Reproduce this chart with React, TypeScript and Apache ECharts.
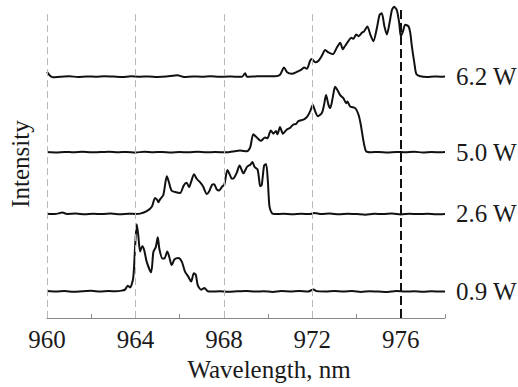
import React, { useEffect, useRef } from "react";
import * as echarts from "echarts";

// Wavelength axis (nm)
const xMin = 960;
const xMax = 978;
const majorTicks = [960, 964, 968, 972, 976];
const minorTicks = [962, 966, 970, 974, 978];
const guideLines = [960, 964, 968, 972];
const markedWavelength = 976;

// Pump powers and vertical stacking offsets (a.u.)
const powers = ["0.9 W", "2.6 W", "5.0 W", "6.2 W"];
const offsets = [27, 106, 169, 246];
const yMax = 314;

// Spectra: [wavelength nm, intensity a.u.]
const spec09: [number, number][] = [
  [960, 0.5], [960.4, 0], [960.8, 0.6], [961.2, -0.2], [961.6, 0.4], [962, 0.8], [962.4, 0.1], [962.8, 0.5],
  [963.1, 0.3], [963.38, 1], [963.53, 2], [963.65, 6], [963.76, 4.3], [963.9, 14], [963.98, 44], [964.06, 68.7],
  [964.13, 57], [964.21, 41], [964.31, 46.3], [964.4, 42], [964.51, 30.3], [964.71, 19.7], [964.81, 40.3],
  [964.92, 45.3], [965.01, 55.3], [965.08, 43.7], [965.22, 33.7], [965.31, 33.7], [965.44, 41], [965.53, 35.3],
  [965.64, 27], [965.76, 32.7], [965.94, 34.3], [966.1, 30.3], [966.24, 20.3], [966.39, 15.3], [966.52, 10.3],
  [966.64, 18.7], [966.73, 17], [966.82, 6.3], [966.97, 2], [967.12, 3.7], [967.27, 0.3], [967.45, 0],
  [967.8, 0.4], [968.2, -0.2], [968.6, 0.3], [969, 0.6], [969.4, 0], [969.8, 0.4], [970.2, -0.3], [970.6, 0.5],
  [971, 0.2], [971.4, 0.6], [971.8, 0], [972.05, 2.2], [972.2, 0.5], [972.6, 0.2], [973, 0.6], [973.4, 0],
  [973.8, 0.5], [974.2, -0.4], [974.6, 0.4], [975, 0.1], [975.4, -0.3], [975.8, 0.5], [976.2, 0], [976.6, 0.4],
  [977, -0.2], [977.4, 0.3], [977.8, 0], [978, 0.2],
];

const spec26: [number, number][] = [
  [960, 0.3], [960.35, 0], [960.7, 1.5], [960.9, 0.2], [961.3, 0.5], [961.7, -0.2], [962.1, 0.4], [962.5, 0],
  [962.9, 0.5], [963.3, -0.1], [963.7, 0.4], [964.0, 0.2], [964.21, 0.5], [964.51, 3], [964.74, 7.5],
  [964.89, 16.5], [965.0, 14], [965.04, 12], [965.11, 15], [965.26, 19.5], [965.42, 38.5], [965.52, 32],
  [965.63, 24], [965.79, 22.5], [966.02, 21.5], [966.18, 29], [966.31, 32], [966.43, 27.5], [966.52, 33],
  [966.65, 40.5], [966.77, 36], [966.92, 32.5], [967.06, 28], [967.23, 20.5], [967.33, 23], [967.47, 30],
  [967.56, 30.5], [967.67, 25.5], [967.78, 24], [967.92, 28], [968.02, 30], [968.16, 45], [968.28, 39.5],
  [968.36, 36], [968.46, 37], [968.58, 42], [968.71, 49.5], [968.82, 44], [968.88, 41.5], [969.04, 48],
  [969.12, 49.5], [969.19, 50], [969.29, 53], [969.39, 48], [969.52, 45.5], [969.59, 36], [969.64, 28.5],
  [969.71, 29.5], [969.82, 49.5], [969.91, 51], [969.99, 33], [970.06, 8], [970.17, 1], [970.32, 0],
  [970.7, 0.4], [971.1, -0.2], [971.5, 0.3], [971.9, 0.1], [972.1, 1.2], [972.4, 0], [972.8, 0.5],
  [973.2, -0.2], [973.6, 0.4], [974.0, 0], [974.4, -0.6], [974.8, 0.3], [975.2, 0.1], [975.6, 0.5],
  [976, -0.3], [976.4, 0.3], [976.8, 0], [977.2, 0.4], [977.6, -0.2], [978, 0.1],
];

const spec50: [number, number][] = [
  [960, 0.2], [960.4, -0.2], [960.8, 0.4], [961.2, 0], [961.6, 0.5], [962, -0.1], [962.4, 0.3], [962.8, 0.6],
  [963.2, 0], [963.6, 0.4], [964, -0.2], [964.4, 0.5], [964.8, 0.1], [965.2, 0.4], [965.6, -0.2], [966, 0.3],
  [966.4, 0], [966.8, 0.5], [967.2, -0.1], [967.6, 0.3], [968.13, 0], [968.4, 0.8], [968.73, 1.7],
  [969.04, 1], [969.19, 5], [969.33, 18.3], [969.49, 15], [969.67, 11.7], [969.86, 15], [969.97, 14.3],
  [970.12, 22.3], [970.24, 19], [970.36, 21.7], [970.42, 18.3], [970.54, 25.7], [970.67, 19], [970.85, 23.3],
  [971.0, 25], [971.14, 28.3], [971.27, 29], [971.37, 31.7], [971.6, 33.3], [971.75, 35.7], [971.9, 41.7],
  [972.02, 48.3], [972.13, 41.7], [972.25, 36.7], [972.43, 40], [972.53, 48.3], [972.62, 58.3],
  [972.73, 48.3], [972.81, 45], [972.93, 56.7], [973.03, 66.7], [973.14, 63.3], [973.26, 58.3],
  [973.41, 55], [973.53, 50], [973.59, 51.7], [973.71, 46.7], [973.94, 45], [974.09, 38.3], [974.19, 28.3],
  [974.31, 11.7], [974.43, 1], [974.62, 0], [975, 0.4], [975.4, -0.2], [975.8, 0.4], [976.2, 0],
  [976.6, 0.5], [977, -0.2], [977.4, 0.3], [977.8, 0], [978, 0.2],
];

const spec62: [number, number][] = [
  [960, 5], [960.14, 1], [960.27, -0.5], [960.6, 0], [961, 0.4], [961.4, -0.2], [961.8, 0.3], [962.2, 0],
  [962.6, 0.5], [963, 0.2], [963.4, -0.3], [963.8, 0.4], [964.2, 0], [964.6, 0.3], [965, -0.2], [965.4, 0.2],
  [965.9, 1.5], [966.2, -0.2], [966.6, 0.3], [967, 0], [967.4, 0.4], [967.8, -0.1], [968.2, 0.2], [968.5, 0],
  [968.82, 0], [968.96, 3.5], [969.05, 0], [969.4, 0.3], [969.8, 0.6], [970.09, 0.5], [970.32, 0.5],
  [970.54, 2], [970.72, 9.5], [970.86, 4.5], [971.07, 3], [971.3, 5], [971.52, 7.5], [971.63, 9.5],
  [971.75, 8], [971.9, 16.3], [971.98, 18], [972.13, 14.7], [972.28, 16.3], [972.43, 21.3], [972.58, 27.3],
  [972.73, 24.7], [972.93, 23], [973.11, 29.7], [973.26, 34.7], [973.38, 28], [973.48, 31.3], [973.63, 36.3],
  [973.76, 39.7], [973.86, 38.7], [973.98, 43], [974.09, 41.3], [974.24, 44.7], [974.34, 46.3],
  [974.49, 51.3], [974.62, 43], [974.76, 36.3], [974.92, 49.7], [975.04, 63], [975.14, 64.7],
  [975.26, 51.3], [975.37, 43], [975.49, 54.7], [975.6, 68], [975.7, 71.3], [975.82, 68], [975.93, 54.7],
  [976, 41.3], [976.1, 46.3], [976.2, 53], [976.35, 51.3], [976.43, 44.7], [976.5, 31.3], [976.61, 14.7],
  [976.7, 3], [976.88, 0.5], [977.2, -0.3], [977.5, 0.3], [977.8, 0], [978, 0.2],
];

const spectra = [spec09, spec26, spec50, spec62];

const FONT = "Liberation Serif";
const TEXT = "#1a1a1a";
const FS = 25;

export default function App() {
  const ref = useRef<HTMLDivElement>(null);

  useEffect(() => {
    if (!ref.current) return;
    const chart = echarts.init(ref.current, undefined, { renderer: "svg" });

    const series: any[] = spectra.map((spec, i) => ({
      name: powers[i],
      type: "line",
      data: spec.map(([x, y]) => [x, y + offsets[i]]),
      showSymbol: false,
      smooth: 0.25,
      clip: false,
      lineStyle: { color: "#111", width: 2 },
      endLabel: {
        show: true,
        formatter: "{a}",
        distance: 11,
        fontFamily: FONT,
        fontSize: FS,
        color: TEXT,
      },
      z: 3,
    }));

    series[0].markLine = {
      silent: true,
      symbol: ["none", "none"],
      label: { show: false },
      animation: false,
      data: [
        ...guideLines.map((v) => ({
          xAxis: v,
          lineStyle: { color: "#b8b8b8", type: [7, 4], width: 1 },
        })),
        {
          xAxis: markedWavelength,
          lineStyle: { color: "#111", type: [9, 4], width: 2 },
        },
      ],
    };

    chart.setOption({
      animation: false,
      textStyle: { fontFamily: FONT },
      grid: { left: 47, right: 73, top: 10, bottom: 63 },
      xAxis: [
        {
          type: "value",
          min: xMin,
          max: xMax,
          interval: 4,
          position: "bottom",
          name: "Wavelength, nm",
          nameLocation: "middle",
          nameGap: 36,
          nameTextStyle: {
            fontFamily: FONT,
            fontSize: FS,
            color: TEXT,
            padding: [0, 0, 0, 46],
          },
          axisLine: { show: true, lineStyle: { color: "#888", width: 1 } },
          axisTick: {
            show: true,
            inside: true,
            length: 7,
            customValues: majorTicks,
            lineStyle: { color: "#888", width: 1 },
          },
          axisLabel: {
            customValues: majorTicks,
            margin: 9,
            fontFamily: FONT,
            fontSize: FS,
            color: TEXT,
          },
          splitLine: { show: false },
        },
        {
          type: "value",
          min: xMin,
          max: xMax,
          interval: 2,
          position: "bottom",
          axisLine: { show: false },
          axisTick: {
            show: true,
            inside: true,
            length: 4,
            customValues: minorTicks,
            lineStyle: { color: "#888", width: 1 },
          },
          axisLabel: { show: false },
          splitLine: { show: false },
        },
      ],
      yAxis: {
        type: "value",
        min: 0,
        max: yMax,
        name: "Intensity",
        nameLocation: "middle",
        nameGap: 14,
        nameTextStyle: { fontFamily: FONT, fontSize: FS, color: TEXT },
        axisLine: { show: false },
        axisTick: { show: false },
        axisLabel: { show: false },
        splitLine: { show: false },
      },
      series,
    });

    return () => chart.dispose();
  }, []);

  return (
    <div
      ref={ref}
      style={{ position: "absolute", left: 0, top: 0, width: 518, height: 387 }}
    />
  );
}
